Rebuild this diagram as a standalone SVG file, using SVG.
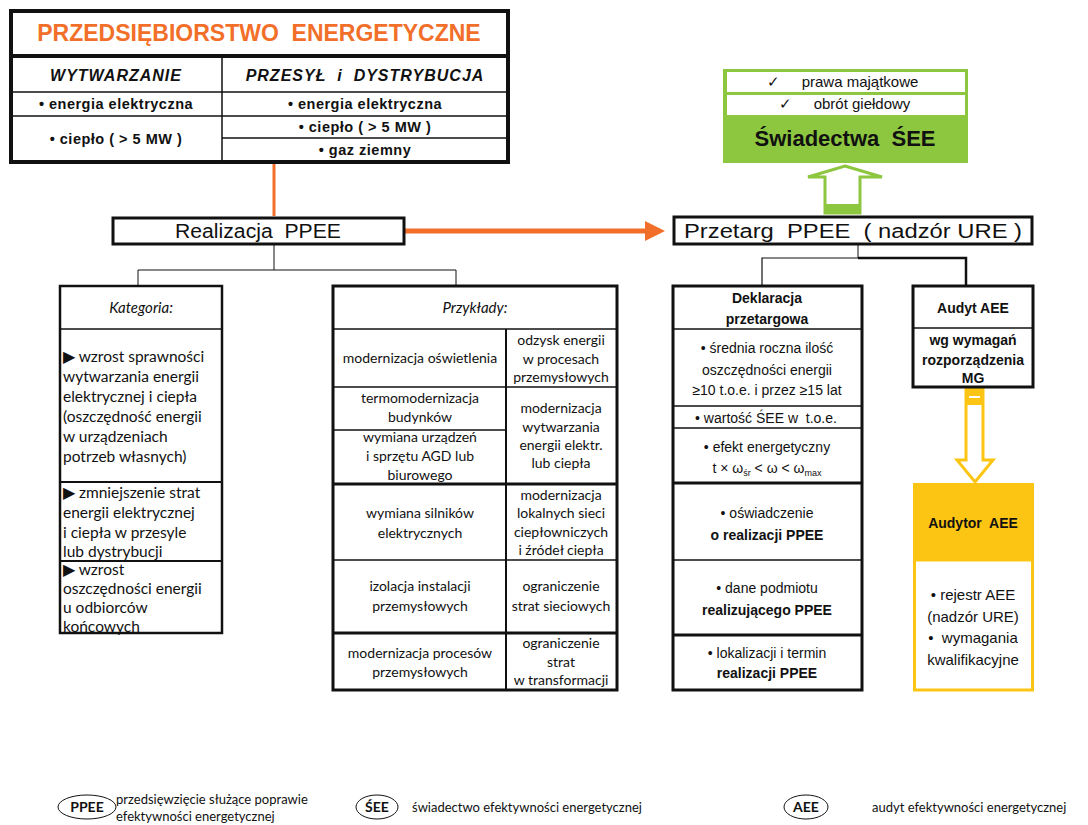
<svg xmlns="http://www.w3.org/2000/svg" width="1088" height="825" viewBox="0 0 1088 825">
<style>
.a{font-family:"Liberation Sans",Arial,sans-serif;fill:#111}
.c{font-family:Lato,"Liberation Sans",sans-serif;fill:#111}
.m{text-anchor:middle}
.b{font-weight:bold}
.i{font-style:italic}
.box{fill:#fff;stroke:#111}
.ln{stroke:#111;fill:none}
</style>
<defs>
<marker id="oa" markerWidth="4" markerHeight="4" refX="3" refY="2" orient="auto" markerUnits="strokeWidth"><path d="M0,0 L4,2 L0,4 Z" fill="#f26f2a"/></marker>
</defs>
<rect width="1088" height="825" fill="#fff"/>

<g id="connectors">
<line x1="274" y1="163" x2="274" y2="216" stroke="#f26f2a" stroke-width="3"/>
<line x1="405" y1="231" x2="660" y2="231" stroke="#f26f2a" stroke-width="5" marker-end="url(#oa)"/>
<polyline class="ln" points="274,244 274,270" stroke-width="1"/>
<polyline class="ln" points="138,286 138,270 456,270 456,286" stroke-width="1"/>
<polyline class="ln" points="858,245 858,258" stroke-width="1"/>
<polyline class="ln" points="762,286 762,258 858,258" stroke-width="1.2"/>
<polyline class="ln" points="858,258 966,258 966,286" stroke-width="2.5"/>
<polygon points="845,166 882,177 860,177 860,213 825,213 825,177 808,177" fill="#fff" stroke="#8dc63f" stroke-width="3"/>
<rect x="825" y="204" width="35" height="10" fill="#8dc63f"/>
<polygon points="975,482 993,460 983,460 983,389 966,389 966,460 957,460" fill="#fff" stroke="#fdc513" stroke-width="3"/>
<rect x="966" y="389" width="17" height="16" fill="#fdc513"/>
<line x1="969" y1="397" x2="980" y2="397" stroke="#fff" stroke-width="2"/>
</g>

<g id="enterprise">
<rect x="11" y="11" width="497" height="151" class="box" stroke-width="4"/>
<line x1="11" y1="56" x2="508" y2="56" class="ln" stroke-width="4"/>
<line x1="222" y1="56" x2="222" y2="162" class="ln" stroke-width="1.5"/>
<line x1="11" y1="92" x2="508" y2="92" class="ln" stroke-width="1.5"/>
<line x1="11" y1="116" x2="508" y2="116" class="ln" stroke-width="1.5"/>
<line x1="222" y1="138" x2="508" y2="138" class="ln" stroke-width="1.5"/>
<text x="259" y="41" class="a m b" font-size="23" style="fill:#f26f2a" xml:space="preserve">PRZEDSIĘBIORSTWO  ENERGETYCZNE</text>
<text x="116" y="81" class="a m b i" font-size="16" letter-spacing="1">WYTWARZANIE</text>
<text x="365" y="81" class="a m b i" font-size="16" letter-spacing="1" xml:space="preserve">PRZESYŁ  i  DYSTRYBUCJA</text>
<g class="a m b" font-size="14.5" letter-spacing="0.5">
<text x="116" y="109">• energia elektryczna</text>
<text x="365" y="109">• energia elektryczna</text>
<text x="116" y="144">• ciepło ( &gt; 5 MW )</text>
<text x="365" y="132">• ciepło ( &gt; 5 MW )</text>
<text x="365" y="155">• gaz ziemny</text>
</g>
</g>

<g id="swiadectwa">
<rect x="723" y="69" width="245" height="94" fill="#8dc63f"/>
<rect x="727" y="72" width="238" height="20" fill="#fff"/>
<rect x="727" y="95" width="238" height="20" fill="#fff"/>
<text x="773" y="87" class="a m" font-size="15">✓</text>
<text x="860" y="87" class="a m" font-size="15">prawa majątkowe</text>
<text x="785" y="109" class="a m" font-size="15">✓</text>
<text x="862" y="109" class="a m" font-size="15">obrót giełdowy</text>
<text x="845" y="146" class="a m b" font-size="22" xml:space="preserve">Świadectwa  ŚEE</text>
</g>

<g id="realizacja">
<rect x="113" y="218" width="291" height="26" class="box" stroke-width="3"/>
<text x="258" y="238" class="a m" font-size="20" textLength="166" lengthAdjust="spacingAndGlyphs" xml:space="preserve">Realizacja  PPEE</text>
</g>

<g id="przetarg">
<rect x="674" y="217" width="358" height="27" class="box" stroke-width="3"/>
<text x="853" y="238" class="a m" font-size="20" textLength="338" lengthAdjust="spacingAndGlyphs" xml:space="preserve">Przetarg  PPEE  ( nadzór URE )</text>
</g>

<g id="kategoria">
<rect x="60" y="286" width="162" height="347" class="box" stroke-width="2.5"/>
<line x1="60" y1="329" x2="222" y2="329" class="ln" stroke-width="1.5"/>
<line x1="60" y1="482" x2="222" y2="482" class="ln" stroke-width="2"/>
<line x1="60" y1="561" x2="222" y2="561" class="ln" stroke-width="2"/>
<text x="141" y="313" class="c m i" font-size="15">Kategoria:</text>
<g class="c" font-size="15.5">
<text x="63" y="362">▶ wzrost sprawności</text>
<text x="63" y="382">wytwarzania energii</text>
<text x="63" y="402">elektrycznej i ciepła</text>
<text x="63" y="422">(oszczędność energii</text>
<text x="63" y="442">w urządzeniach</text>
<text x="63" y="462">potrzeb własnych)</text>
<text x="63" y="498">▶ zmniejszenie strat</text>
<text x="63" y="518">energii elektrycznej</text>
<text x="63" y="538">i ciepła w przesyle</text>
<text x="63" y="557">lub dystrybucji</text>
<text x="63" y="575">▶ wzrost</text>
<text x="63" y="594">oszczędności energii</text>
<text x="63" y="613">u odbiorców</text>
<text x="63" y="632">końcowych</text>
</g>
</g>

<g id="przyklady">
<rect x="333" y="286" width="284" height="404" class="box" stroke-width="3"/>
<line x1="333" y1="329" x2="617" y2="329" class="ln" stroke-width="1.5"/>
<line x1="506" y1="329" x2="506" y2="690" class="ln" stroke-width="2"/>
<line x1="333" y1="387" x2="617" y2="387" class="ln" stroke-width="1.5"/>
<line x1="333" y1="430" x2="506" y2="430" class="ln" stroke-width="1.5"/>
<line x1="333" y1="484" x2="617" y2="484" class="ln" stroke-width="3"/>
<line x1="333" y1="560" x2="617" y2="560" class="ln" stroke-width="1.5"/>
<line x1="333" y1="633" x2="617" y2="633" class="ln" stroke-width="3"/>
<text x="475" y="313" class="c m i" font-size="15">Przykłady:</text>
<g class="c m" font-size="14">
<text x="420" y="363">modernizacja oświetlenia</text>
<text x="561" y="345">odzysk energii</text>
<text x="561" y="364">w procesach</text>
<text x="561" y="382">przemysłowych</text>
<text x="420" y="403">termomodernizacja</text>
<text x="420" y="422">budynków</text>
<text x="420" y="442">wymiana urządzeń</text>
<text x="420" y="461">i sprzętu AGD lub</text>
<text x="420" y="480">biurowego</text>
<text x="561" y="413">modernizacja</text>
<text x="561" y="432">wytwarzania</text>
<text x="561" y="450">energii elektr.</text>
<text x="561" y="468">lub ciepła</text>
<text x="420" y="518">wymiana silników</text>
<text x="420" y="538">elektrycznych</text>
<text x="561" y="500">modernizacja</text>
<text x="561" y="518">lokalnych sieci</text>
<text x="561" y="537">ciepłowniczych</text>
<text x="561" y="555">i źródeł ciepła</text>
<text x="420" y="591">izolacja instalacji</text>
<text x="420" y="611">przemysłowych</text>
<text x="561" y="591">ograniczenie</text>
<text x="561" y="611">strat sieciowych</text>
<text x="420" y="658">modernizacja procesów</text>
<text x="420" y="677">przemysłowych</text>
<text x="561" y="648">ograniczenie</text>
<text x="561" y="667">strat</text>
<text x="561" y="685">w transformacji</text>
</g>
</g>

<g id="deklaracja">
<rect x="673" y="286" width="189" height="404" class="box" stroke-width="3"/>
<line x1="673" y1="329" x2="862" y2="329" class="ln" stroke-width="1.5"/>
<line x1="673" y1="406" x2="862" y2="406" class="ln" stroke-width="1.5"/>
<line x1="673" y1="428" x2="862" y2="428" class="ln" stroke-width="1.5"/>
<line x1="673" y1="483" x2="862" y2="483" class="ln" stroke-width="3"/>
<line x1="673" y1="560" x2="862" y2="560" class="ln" stroke-width="1.5"/>
<line x1="673" y1="635" x2="862" y2="635" class="ln" stroke-width="3"/>
<g class="a m" font-size="14">
<text x="767" y="303" class="b">Deklaracja</text>
<text x="767" y="324" class="b">przetargowa</text>
<text x="767" y="353">• średnia roczna ilość</text>
<text x="767" y="375">oszczędności energii</text>
<text x="767" y="395">≥10 t.o.e. i przez ≥15 lat</text>
<text x="766" y="423" xml:space="preserve">• wartość ŚEE w  t.o.e.</text>
<text x="767" y="452">• efekt energetyczny</text>
<text x="767" y="473">t × ω<tspan font-size="9" dy="3">śr</tspan><tspan dy="-3"> &lt; ω &lt; ω</tspan><tspan font-size="9" dy="3">max</tspan></text>
<text x="767" y="518">• oświadczenie</text>
<text x="767" y="540" class="b">o realizacji PPEE</text>
<text x="767" y="593">• dane podmiotu</text>
<text x="767" y="615" class="b">realizującego PPEE</text>
<text x="767" y="658">• lokalizacji i termin</text>
<text x="767" y="678" class="b">realizacji PPEE</text>
</g>
</g>

<g id="audyt">
<rect x="913" y="286" width="120" height="101" class="box" stroke-width="3"/>
<line x1="913" y1="328" x2="1033" y2="328" class="ln" stroke-width="1.5"/>
<g class="a m b" font-size="14">
<text x="973" y="313">Audyt AEE</text>
<text x="973" y="345">wg wymagań</text>
<text x="973" y="365">rozporządzenia</text>
<text x="973" y="383">MG</text>
</g>
</g>

<g id="audytor">
<rect x="913" y="483" width="121" height="77" fill="#fdc513"/>
<rect x="914.5" y="560" width="118" height="130" fill="#fff" stroke="#fdc513" stroke-width="3"/>
<text x="973" y="528" class="a m b" font-size="14" xml:space="preserve">Audytor  AEE</text>
<g class="a m" font-size="15">
<text x="973" y="600">• rejestr AEE</text>
<text x="973" y="622">(nadzór URE)</text>
<text x="973" y="643" xml:space="preserve">•  wymagania</text>
<text x="973" y="665">kwalifikacyjne</text>
</g>
</g>

<g id="legend">
<ellipse cx="87" cy="807" rx="29" ry="12" fill="none" stroke="#111" stroke-width="1"/>
<text x="87" y="812" class="c m b" font-size="14">PPEE</text>
<text x="116" y="804" class="c" font-size="13">przedsięwzięcie służące poprawie</text>
<text x="116" y="821" class="c" font-size="13">efektywności energetycznej</text>
<ellipse cx="377" cy="807" rx="21" ry="12" fill="none" stroke="#111" stroke-width="1"/>
<text x="377" y="812" class="c m b" font-size="14">ŚEE</text>
<text x="412" y="812" class="c" font-size="13">świadectwo efektywności energetycznej</text>
<ellipse cx="806" cy="807" rx="22" ry="12" fill="none" stroke="#111" stroke-width="1"/>
<text x="806" y="812" class="c m b" font-size="14">AEE</text>
<text x="872" y="812" class="c" font-size="13">audyt efektywności energetycznej</text>
</g>
</svg>
